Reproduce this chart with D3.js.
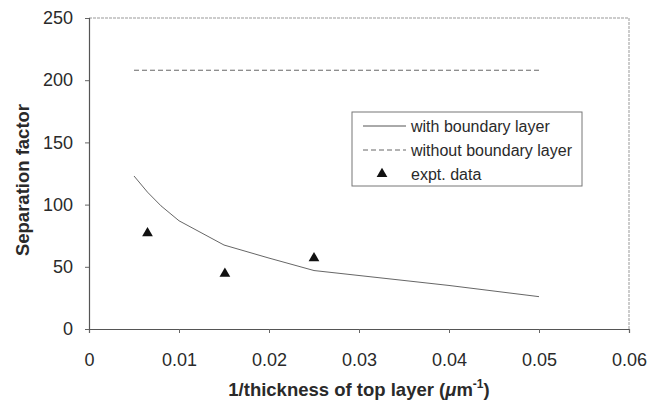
<!DOCTYPE html>
<html>
<head>
<meta charset="utf-8">
<script src="https://cdn.jsdelivr.net/npm/d3@7"></script>
<style>
  html, body { margin: 0; padding: 0; background: #fff; }
  svg { display: block; font-family: "Liberation Sans", Arial, sans-serif; }
</style>
</head>
<body>
<svg id="chart" width="649" height="405"></svg>
<script>
// valores
const xTicks = [0, 0.01, 0.02, 0.03, 0.04, 0.05, 0.06];
const yTicks = [0, 50, 100, 150, 200, 250];

const conCapaX = [0.005, 0.0065, 0.008, 0.01, 0.015, 0.02, 0.025, 0.03, 0.035, 0.04, 0.045, 0.05];
const conCapaY = [123, 110, 99, 87, 67.5, 57, 47, 43, 39, 35, 30.5, 26];

const sinCapaX = [0.005, 0.05];
const sinCapaY = [208, 208];

const exptX = [0.0065, 0.0151, 0.025];
const exptY = [77, 44.5, 57];

const leyenda = ['with boundary layer', 'without boundary layer', 'expt. data'];

const margen = { top: 18, right: 20, bottom: 76, left: 89 };
const W = 649, H = 405;
const ancho = W - margen.left - margen.right;
const alto = H - margen.top - margen.bottom;

const svg = d3.select('#chart');
const g = svg.append('g').attr('transform', `translate(${margen.left},${margen.top})`);

const x = d3.scaleLinear().domain([0, 0.06]).range([0, ancho]);
const y = d3.scaleLinear().domain([0, 250]).range([alto, 0]);

// marco punteado arriba y a la derecha
g.append('path')
  .attr('d', `M0,0H${ancho}V${alto}`)
  .attr('fill', 'none')
  .attr('stroke', '#999')
  .attr('stroke-width', 1)
  .attr('stroke-dasharray', '3,1');

// ejes
const ejeX = g.append('g')
  .attr('transform', `translate(0,${alto})`)
  .call(d3.axisBottom(x).tickValues(xTicks).tickSize(4).tickPadding(20)
    .tickFormat(d => d === 0 ? '0' : d3.format('.2f')(d)));
const ejeY = g.append('g')
  .call(d3.axisLeft(y).tickValues(yTicks).tickSize(4).tickPadding(12));

[ejeX, ejeY].forEach(eje => {
  eje.select('.domain').attr('stroke', '#555').attr('stroke-width', 1.2);
  eje.selectAll('.tick line').attr('stroke', '#666');
  eje.selectAll('.tick text')
    .attr('fill', '#2a2a2a')
    .style('font-size', '18px')
    .style('font-family', '"Liberation Sans", Arial, sans-serif');
});

// curvas
const linea = d3.line().x(d => x(d[0])).y(d => y(d[1]));

g.append('path')
  .datum(sinCapaX.map((v, i) => [v, sinCapaY[i]]))
  .attr('d', linea)
  .attr('fill', 'none')
  .attr('stroke', '#666')
  .attr('stroke-width', 1)
  .attr('stroke-dasharray', '5,3');

g.append('path')
  .datum(conCapaX.map((v, i) => [v, conCapaY[i]]))
  .attr('d', linea)
  .attr('fill', 'none')
  .attr('stroke', '#555')
  .attr('stroke-width', 0.9);

const triangulo = d3.symbol().type(d3.symbolTriangle).size(50);
g.selectAll('path.expt')
  .data(exptX.map((v, i) => [v, exptY[i]]))
  .join('path')
  .attr('class', 'expt')
  .attr('d', triangulo)
  .attr('transform', d => `translate(${x(d[0])},${y(d[1])})`)
  .attr('fill', '#111');

// leyenda
const ley = svg.append('g').attr('transform', 'translate(352,112)');
ley.append('rect')
  .attr('width', 230).attr('height', 74)
  .attr('fill', '#fff')
  .attr('stroke', '#777')
  .attr('stroke-width', 1);

const filas = [14, 38, 62];
ley.append('line')
  .attr('x1', 11).attr('x2', 54).attr('y1', filas[0]).attr('y2', filas[0])
  .attr('stroke', '#555').attr('stroke-width', 1);
ley.append('line')
  .attr('x1', 11).attr('x2', 54).attr('y1', filas[1]).attr('y2', filas[1])
  .attr('stroke', '#666').attr('stroke-width', 1).attr('stroke-dasharray', '5,3');
ley.append('path')
  .attr('d', triangulo)
  .attr('transform', `translate(30,${filas[2]})`)
  .attr('fill', '#111');

ley.selectAll('text.item')
  .data(leyenda)
  .join('text')
  .attr('class', 'item')
  .attr('x', 59)
  .attr('y', (d, i) => filas[i] + 6)
  .attr('fill', '#2a2a2a')
  .style('font-size', '16px')
  .text(d => d);

// títulos de ejes
svg.append('text')
  .attr('transform', `translate(29,180) rotate(-90)`)
  .attr('text-anchor', 'middle')
  .attr('fill', '#2a2a2a')
  .style('font-size', '18.5px')
  .style('font-weight', 'bold')
  .text('Separation factor');

const tituloX = svg.append('text')
  .attr('x', margen.left + ancho / 2)
  .attr('y', 396)
  .attr('text-anchor', 'middle')
  .attr('fill', '#2a2a2a')
  .style('font-size', '18.5px')
  .style('font-weight', 'bold');
tituloX.append('tspan').text('1/thickness of top layer (');
tituloX.append('tspan').style('font-style', 'italic').text('μ');
tituloX.append('tspan').text('m');
tituloX.append('tspan').attr('dy', -8).style('font-size', '12px').text('-1');
tituloX.append('tspan').attr('dy', 8).text(')');
</script>
</body>
</html>
